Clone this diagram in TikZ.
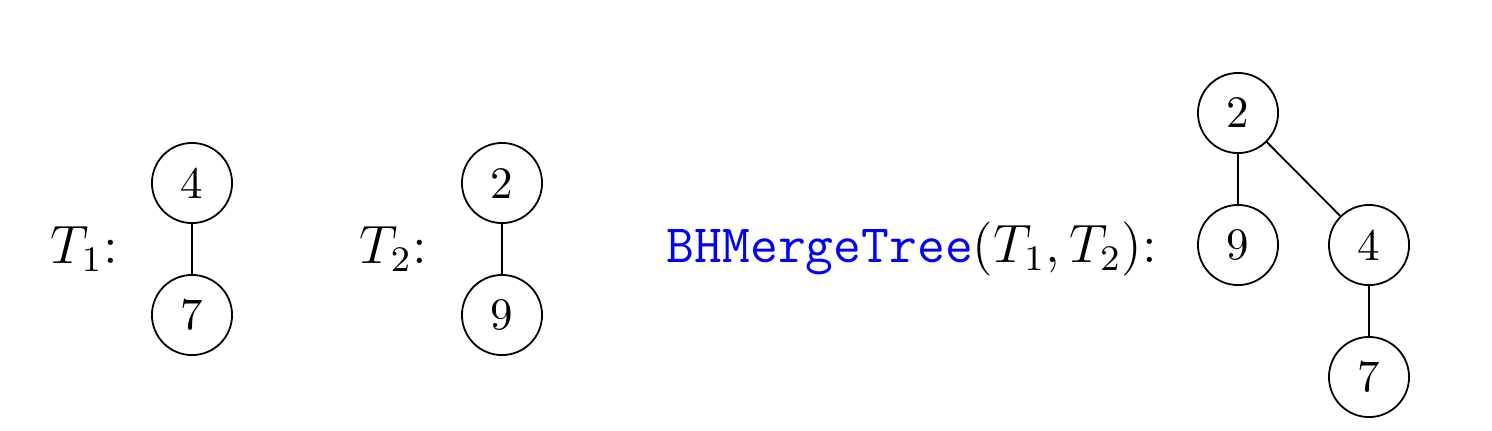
\documentclass[tikz,border=0pt]{standalone}
\begin{document}
\begin{tikzpicture}[x=0.2222pt,y=-0.2222pt,
  vtx/.style={draw,circle,minimum size=17.8pt,inner sep=0pt,font=\normalsize},
  lbl/.style={inner sep=0pt,anchor=base west,font=\large},
  edge/.style={draw,line width=0.4pt}]
\useasboundingbox (0,0) rectangle (1492,430);
% labels
\node[lbl] (t1) at (50,263) {$T_1$:};
\node[lbl] (t2) at (359,263) {$T_2$:};
\node[lbl] (t3) at (666,262) {\textcolor{blue}{\texttt{BHMergeTree}}$(T_1,T_2)$:};
% T1
\node[vtx] (a4) at (192,183) {4};
\node[vtx] (a7) at (192,315) {7};
% T2
\node[vtx] (b2) at (502,183) {2};
\node[vtx] (b9) at (502,315) {9};
% merged
\node[vtx] (c2) at (1238,113) {2};
\node[vtx] (c9) at (1238,245) {9};
\node[vtx] (c4) at (1369,245) {4};
\node[vtx] (c7) at (1369,377) {7};
\draw[edge] (a4) -- (a7);
\draw[edge] (b2) -- (b9);
\draw[edge] (c2) -- (c9);
\draw[edge] (c2) -- (c4);
\draw[edge] (c4) -- (c7);
\end{tikzpicture}
\end{document}
